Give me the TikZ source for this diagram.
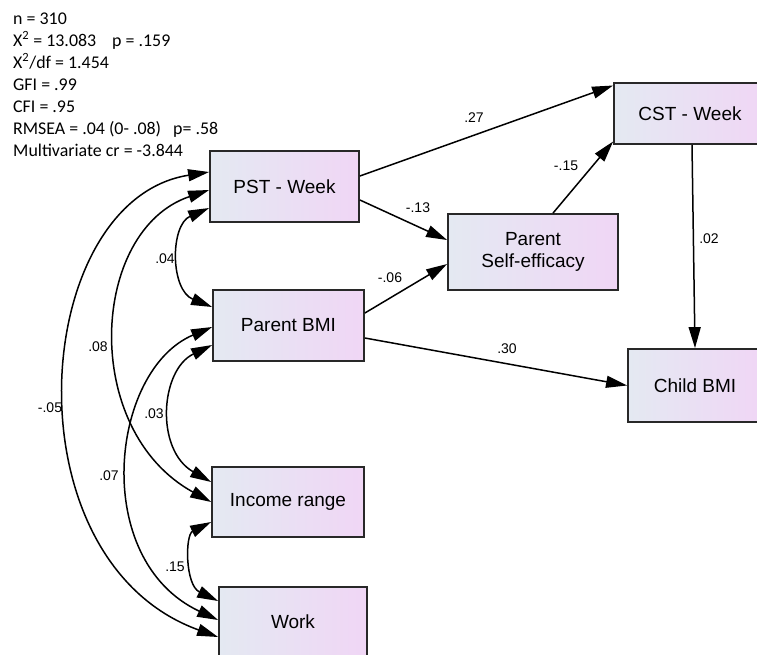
\documentclass[tikz,border=0pt]{standalone}
\usepackage{fontspec}
\setmainfont{Liberation Sans}
\newfontfamily\statfont{Carlito}
\usetikzlibrary{arrows.meta,calc}
\definecolor{boxL}{RGB}{228,233,242}
\definecolor{boxR}{RGB}{240,214,245}
\definecolor{boxEdge}{RGB}{40,40,40}
\tikzset{
  varbox/.style={draw=boxEdge, line width=1.8pt, left color=boxL, right color=boxR,
    inner sep=0pt, font=\fontsize{19}{22}\selectfont, align=center},
  path/.style={line width=1.5pt, -{Triangle[length=21pt,width=12pt]}},
  cov/.style={line width=1.5pt, {Triangle[length=21pt,width=12pt]}-{Triangle[length=21pt,width=12pt]}},
  coef/.style={font=\fontsize{14}{16}\selectfont, inner sep=0pt},
  stat/.style={font=\statfont\fontsize{17.9}{20}\selectfont, anchor=base west, inner sep=0pt}
}
\begin{document}
\begin{tikzpicture}[x=1pt,y=-1pt]
\useasboundingbox (0,0) rectangle (757,654);
% stats
\node[stat] (s1) at (13,24) {n = 310};
\node[stat] (s2) at (13,46) {X\textsuperscript{2} = 13.083\hspace{16pt}p = .159};
\node[stat] (s3) at (13,68) {X\textsuperscript{2}/df = 1.454};
\node[stat] (s4) at (13,90) {GFI = .99};
\node[stat] (s5) at (13,112) {CFI = .95};
\node[stat] (s6) at (13,134) {RMSEA = .04 (0- .08)\hspace{12pt}p= .58};
\node[stat] (s7) at (13,156) {Multivariate cr = -3.844};
% boxes
\node[varbox, minimum width=149pt, minimum height=71pt] (pst) at (284.5,186.5) {PST - Week};
\node[varbox, minimum width=151pt, minimum height=71pt] (pbmi) at (288.5,325.5) {Parent BMI};
\node[varbox, minimum width=170pt, minimum height=76pt] (pse) at (533,252) {Parent\\Self-efficacy};
\node[varbox, minimum width=152pt, minimum height=61pt] (cst) at (690,113.5) {CST - Week};
\node[varbox, minimum width=134pt, minimum height=73pt] (cbmi) at (695,385.5) {Child BMI};
\node[varbox, minimum width=152pt, minimum height=70pt] (inc) at (288,502) {Income range};
\node[varbox, minimum width=148pt, minimum height=70pt] (work) at (293,622) {Work};
% directed paths
\draw[path] ([yshift=10.5pt]pst.east) -- ([yshift=28pt]cst.west);
\draw[path] ([yshift=-13.5pt]pst.east) -- ([yshift=12pt]pse.west);
\draw[path] ([yshift=12.5pt]pbmi.east) -- ([yshift=-12pt]pse.west);
\draw[path] ([xshift=20pt]pse.north) -- ([yshift=-28pt]cst.west);
\draw[path] ([xshift=2pt]cst.south) -- (cbmi.north);
\draw[path] ([yshift=-12.5pt]pbmi.east) -- (cbmi.west);
% covariances
\draw[cov] ([yshift=-21.5pt]pst.west) .. controls (170,225) and (170,290) .. ([yshift=18.5pt]pbmi.west);
\draw[cov] ([yshift=-3.5pt]pst.west) .. controls (90,230) and (80,430) .. (inc.west);
\draw[cov] ([yshift=14.5pt]pst.west) .. controls (30,200) and (5,560) .. ([yshift=-15pt]work.west);
\draw[cov] ([yshift=-19.5pt]pbmi.west) .. controls (160,370) and (155,450) .. ([yshift=20pt]inc.west);
\draw[cov] ([yshift=-1.5pt]pbmi.west) .. controls (110,370) and (90,560) .. ([yshift=2pt]work.west);
\draw[cov] ([yshift=-20pt]inc.west) .. controls (185,535) and (185,585) .. ([yshift=21pt]work.west);
% coefficients
\node[coef] (c1) at (474,118) {.27};
\node[coef] (c2) at (418,208) {-.13};
\node[coef] (c3) at (390,278) {-.06};
\node[coef] (c4) at (566,166) {-.15};
\node[coef] (c5) at (709,239) {.02};
\node[coef] (c6) at (507,349) {.30};
\node[coef] (c7) at (165,259) {.04};
\node[coef] (c8) at (98,347) {.08};
\node[coef] (c9) at (50,408) {-.05};
\node[coef] (c10) at (154,414) {.03};
\node[coef] (c11) at (109,476) {.07};
\node[coef] (c12) at (175,567) {.15};
\end{tikzpicture}
\end{document}
